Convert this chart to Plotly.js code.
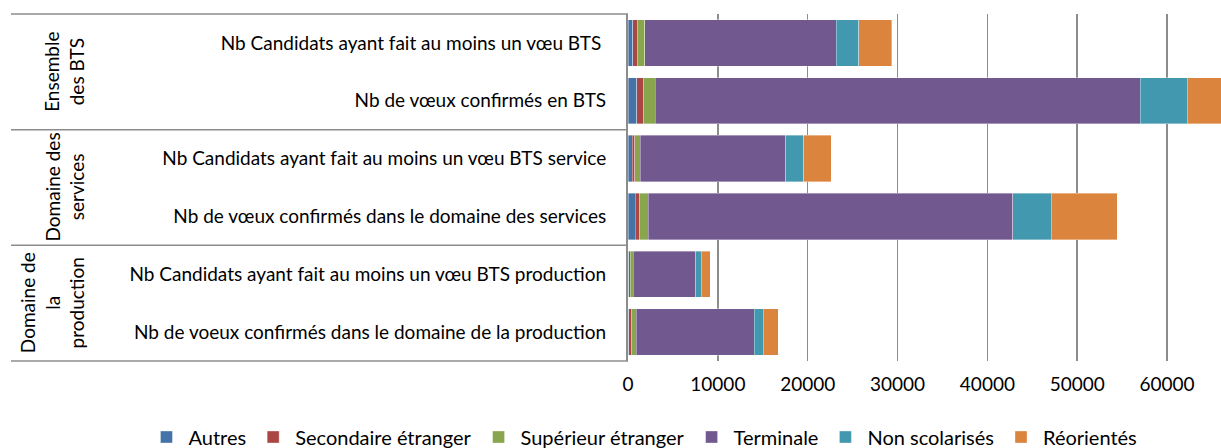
<!DOCTYPE html>
<html>
<head>
<meta charset="utf-8">
<script src="https://cdn.plot.ly/plotly-3.0.1.min.js"></script>
<style>html,body{margin:0;padding:0;background:#fff;}#chart{width:1221px;height:448px;}</style>
</head>
<body>
<div id="chart"></div>
<script>
// Categories, top to bottom
const categories = [
  "Nb Candidats ayant fait au moins un vœu BTS\u00a0",
  "Nb de vœux confirmés en BTS",
  "Nb Candidats ayant fait au moins un vœu BTS service",
  "Nb de vœux confirmés dans le domaine des services",
  "Nb Candidats ayant fait au moins un vœu BTS production",
  "Nb de voeux confirmés dans le domaine de la production"
];
const groups = ["Ensemble<br>des BTS", "Domaine des<br>services", "Domaine de<br>la<br>production"];

const seriesNames = ["Autres", "Secondaire étranger", "Supérieur étranger", "Terminale", "Non scolarisés", "Réorientés"];
const autres      = [520, 980, 450, 780, 60, 80];
const secondaire  = [520, 780, 300, 520, 170, 330];
const superieur   = [850, 1270, 630, 930, 330, 480];
const terminale   = [21300, 53960, 16180, 40600, 6980, 13140];
const nonScol     = [2480, 5230, 2000, 4280, 630, 1040];
const reorientes  = [3680, 4200, 3080, 7350, 1000, 1630];
const xTicks = [0, 10000, 20000, 30000, 40000, 50000, 60000];

const colors = ["#4572A7", "#AA4643", "#89A54E", "#71588F", "#4198AF", "#DB843D"];
const values = [autres, secondaire, superieur, terminale, nonScol, reorientes];

const FONT = "Lato, 'Open Sans', sans-serif";

const traces = seriesNames.map((n, i) => ({
  type: "bar", orientation: "h", name: n,
  y: categories, x: values[i],
  marker: {color: colors[i], line: {color: "rgba(255,255,255,0.6)", width: 0.6}},
  hoverinfo: "x+name"
}));

const W = 1221, H = 448;
const plotL = 628, plotT = 14, plotB = 361;
const fx = p => p / W;            // pixel x -> paper x (paper = whole figure)
const fy = p => (H - p) / H;      // pixel y -> paper y

const shapes = [0, 1/3, 2/3, 1].map(y => ({
  type: "line", xref: "paper", yref: "y domain",
  x0: fx(11), x1: fx(plotL), y0: y, y1: y,
  line: {color: "#8c8c8c", width: 1.5}
}));

const groupX = [64, 64, 52];
const annotations = groups.map((g, i) => ({
  xref: "paper", yref: "y domain", x: fx(groupX[i]), y: 1 - (i + 0.5) / 3,
  text: g, textangle: -90, showarrow: false,
  font: {family: FONT, size: 19, color: "#000"},
  xanchor: "center", yanchor: "middle"
}));

const layout = {
  width: W, height: H,
  margin: {l: 0, r: 0, t: 0, b: 0, autoexpand: false},
  barmode: "stack", bargap: 0.2,
  paper_bgcolor: "#fff", plot_bgcolor: "#fff",
  font: {family: FONT, size: 19, color: "#000"},
  xaxis: {
    domain: [fx(plotL), 1],
    range: [0, 66000], tickvals: xTicks, ticktext: xTicks.map(String),
    showgrid: true, gridcolor: "#8c8c8c", gridwidth: 1.5,
    zeroline: false, showline: false, ticks: "",
    ticklabelstandoff: 10, fixedrange: true, automargin: false
  },
  yaxis: {
    domain: [fy(plotB), fy(plotT)],
    autorange: "reversed", showline: true, linecolor: "#8c8c8c", linewidth: 2,
    ticks: "", ticklabelstandoff: 16, showgrid: false, fixedrange: true, automargin: false
  },
  legend: {
    orientation: "h", xref: "paper", yref: "paper",
    x: 0.527, y: fy(437), xanchor: "center", yanchor: "middle",
    font: {size: 20}, traceorder: "normal", itemwidth: 34
  },
  shapes: shapes,
  annotations: annotations,
  showlegend: true
};

Plotly.newPlot("chart", traces, layout, {displayModeBar: false, staticPlot: true});
</script>
</body>
</html>
